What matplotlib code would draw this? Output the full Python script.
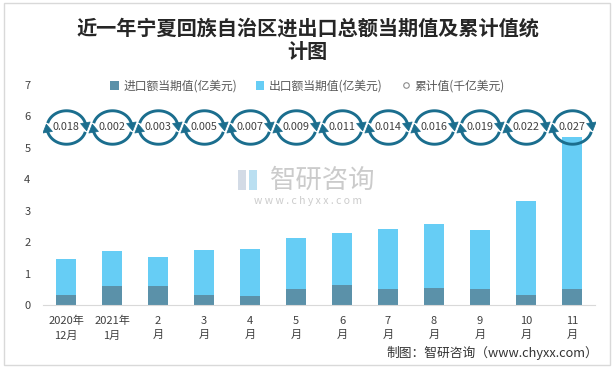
import numpy as np
import matplotlib
matplotlib.use('Agg')
import matplotlib.pyplot as plt
from matplotlib.path import Path
from matplotlib.lines import Line2D
from matplotlib.patches import Rectangle

plt.rcParams['font.family'] = ['Noto Sans CJK SC', 'DejaVu Sans']

# 数据（亿美元 / 千亿美元）
months = ['2020年\n12月', '2021年\n1月', '2\n月', '3\n月', '4\n月', '5\n月',
          '6\n月', '7\n月', '8\n月', '9\n月', '10\n月', '11\n月']
import_vals = [0.32, 0.60, 0.60, 0.32, 0.29, 0.51, 0.64, 0.51, 0.54, 0.51, 0.32, 0.51]
export_vals = [1.14, 1.12, 0.93, 1.43, 1.49, 1.62, 1.65, 1.91, 2.04, 1.88, 2.99, 4.84]
cum_vals = [0.018, 0.002, 0.003, 0.005, 0.007, 0.009, 0.011, 0.014, 0.016, 0.019, 0.022, 0.027]
y_ticks = [0, 1, 2, 3, 4, 5, 6, 7]

c_imp = '#5B91A9'
c_exp = '#66CDF5'
c_ring = '#1B6E8E'
c_txt = '#404040'


def ring_paths():
    # 循环箭头图标：两段椭圆弧 + 两个箭头
    a, b = 1.0, 0.86
    anchor = (1.25, 0.0)
    arcs_v, arcs_c = [anchor], [Path.MOVETO]
    heads_v, heads_c = [anchor], [Path.MOVETO]
    for t0, t1 in [(165, 8), (-15, -172)]:
        t = np.radians(np.linspace(t0, t1, 50))
        pts = np.column_stack([a*np.cos(t), b*np.sin(t)])
        arcs_v += list(map(tuple, pts))
        arcs_c += [Path.MOVETO] + [Path.LINETO]*(len(pts)-1)
        te = t[-1]
        d = np.array([a*np.sin(te), -b*np.cos(te)])
        d /= np.linalg.norm(d)
        n = np.array([-d[1], d[0]])
        e = pts[-1]
        L, W = 0.42, 0.25
        tip = e + d*L*0.7
        base = e - d*L*0.3
        heads_v += [tuple(tip), tuple(base + n*W), tuple(base - n*W), tuple(tip)]
        heads_c += [Path.MOVETO, Path.LINETO, Path.LINETO, Path.CLOSEPOLY]
    return Path(arcs_v, arcs_c), Path(heads_v, heads_c)


fig = plt.figure(figsize=(6.15, 3.69), dpi=100)
ax = fig.add_axes([43/615, 1-305/369, 552/615, 220/369])

x = np.arange(len(months))
b1 = ax.bar(x, import_vals, width=0.42, color=c_imp, zorder=2)
b2 = ax.bar(x, export_vals, width=0.42, bottom=import_vals, color=c_exp, zorder=2)

# 累计值：固定高度的辅助系列
ring_level = np.full(len(x), 5.67)
arc_p, head_p = ring_paths()
ax.plot(x, ring_level, ls='none', marker=arc_p, ms=35, mfc='none', mec=c_ring, mew=2.1, zorder=3)
ax.plot(x, ring_level, ls='none', marker=head_p, ms=35, mfc=c_ring, mec=c_ring, mew=0.5, zorder=3)
for xi, yi, v in zip(x, ring_level, cum_vals):
    ax.text(xi, yi, '{:.3f}'.format(v), ha='center', va='center', fontsize=7.8,
            color=c_txt, zorder=4)

ax.set_xlim(-0.5, len(x)-0.5)
ax.set_ylim(0, 7)
ax.set_yticks(y_ticks)
ax.set_xticks(x)
ax.set_xticklabels(months, fontsize=8, color=c_txt, linespacing=1.5)
ax.tick_params(axis='y', length=0, pad=9, labelsize=8, labelcolor=c_txt)
ax.tick_params(axis='x', length=0, pad=8)
for s in ['top', 'right', 'left']:
    ax.spines[s].set_visible(False)
ax.spines['bottom'].set_color('#D9D9D9')

proxy = Line2D([], [], ls='none', marker='o', ms=4, mfc='white', mec='#8C8C8C', mew=0.8)
leg = fig.legend([b1, b2, proxy], ['进口额当期值(亿美元)', '出口额当期值(亿美元)', '累计值(千亿美元)'],
                 loc='center', bbox_to_anchor=(0.5, 1-86/369), ncol=3, frameon=False,
                 fontsize=8.5, handlelength=0.7, handleheight=0.7, handletextpad=0.4,
                 columnspacing=1.6)
for t in leg.get_texts():
    t.set_color('#595959')

fig.text(0.5, 1-28/369, '近一年宁夏回族自治区进出口总额当期值及累计值统', ha='center', va='center',
         fontsize=14.5, fontweight='bold', color='#262626')
fig.text(0.5, 1-51/369, '计图', ha='center', va='center',
         fontsize=14.5, fontweight='bold', color='#262626')

# 水印
fig.text(323/615, 1-180/369, '智研咨询', ha='center', va='center', fontsize=19,
         color='#BFBFBF', alpha=0.8, zorder=1)
fig.text(308/615, 1-201/369, 'w w w . c h y x x . c o m', ha='center', va='center',
         fontsize=7.5, color='#BFBFBF', alpha=0.8, zorder=1)
fig.patches.append(Rectangle((238/615, 1-190/369), 8/615, 20/369, transform=fig.transFigure,
                             facecolor='#C9D3E0', edgecolor='none', alpha=0.8))
fig.patches.append(Rectangle((249/615, 1-190/369), 8/615, 20/369, transform=fig.transFigure,
                             facecolor='#A9D8EE', edgecolor='none', alpha=0.8))

fig.text(598/615, 1-353/369, '制图：智研咨询（www.chyxx.com）', ha='right', va='center',
         fontsize=9.2, color='#333333')

fig.patches.append(Rectangle((4/615, 1-365/369), 606/615, 362/369, transform=fig.transFigure,
                             facecolor='none', edgecolor='#D9D9D9', linewidth=1))

fig.savefig('out.png', dpi=100)
